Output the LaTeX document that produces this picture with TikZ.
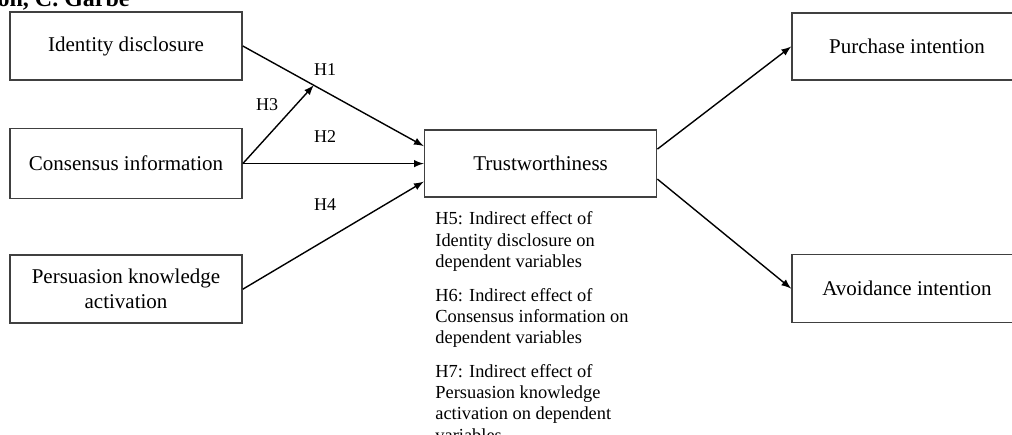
\documentclass[tikz,border=0pt]{standalone}
\usepackage{fontspec}
\setmainfont{Liberation Serif}
\usepackage{tikz}
\usetikzlibrary{positioning}

\begin{document}
\begin{tikzpicture}[
    var/.style={draw=black!75, line width=0.8pt, minimum width=116pt,
        minimum height=34pt, align=center, font=\fontsize{10.5}{12.5}\selectfont},
    hyp/.style={inner sep=0pt, font=\fontsize{9}{10}\selectfont},
    note/.style={inner sep=0pt, align=left, font=\fontsize{9.2}{10.7}\selectfont},
    path/.style={->, >=latex, line width=0.7pt}]
    \useasboundingbox (0,0) rectangle (506pt,-217pt);
    % Header cut at the top
    \node[inner sep=0pt, anchor=base east, font=\fontsize{12}{13}\selectfont\bfseries]
        (head) at (65pt,-3pt) {on, C. Garbe};
    % Add the variables
        \node[var] (id) at (63pt,-23pt) {Identity disclosure};
		\node[var,
			below=23.5pt of id,
			minimum height=35pt
        	] (cons) {Consensus information};
		\node[var,
			below= 27.5pt of cons
        	] (pka) {Persuasion knowledge\\activation};
         \node[var,
         	 right = 90.5pt of cons,
         	 minimum height=33.5pt
              ] (trust) {Trustworthiness};
		\node[var,
			minimum width=115pt,
			minimum height=33.5pt
        	] (purch) at (453.5pt,-23.25pt) {Purchase intention};
		\node[var,
			minimum width=115pt,
			below=86.5pt of purch
        	] (avoid) {Avoidance intention};
    % Hypotheses
		\node[hyp] (h1) at (162.5pt,-35pt) {H1};
		\node[hyp] (h2) at (162.5pt,-68.5pt) {H2};
		\node[hyp] (h3) at (133.5pt,-52.5pt) {H3};
		\node[hyp] (h4) at (162.5pt,-102.5pt) {H4};
		\node[note, anchor=north west] (h5) at (217.5pt,-105.8pt)
			{H5: Indirect effect of\\Identity disclosure on\\dependent variables};
		\node[note, below right=7.8pt and 0pt of h5.south west] (h6)
			{H6: Indirect effect of\\Consensus information on\\dependent variables};
		\node[note, below right=7.8pt and 0pt of h6.south west] (h7)
			{H7: Indirect effect of\\Persuasion knowledge\\activation on dependent\\variables};

       \path (id.east) -- ([yshift=8.75pt]trust.west) coordinate[pos=0.392] (onh1);
       \path[path]
			(id.east) edge ([yshift=8.75pt]trust.west)
			(cons.east) edge (trust.west)
			(cons.east) edge (onh1)
			(pka.east) edge ([yshift=-9pt]trust.west)
			([yshift=7.25pt]trust.east) edge (purch.west)
			([yshift=-7.75pt]trust.east) edge (avoid.west)
            ;
	\end{tikzpicture}
\end{document}
